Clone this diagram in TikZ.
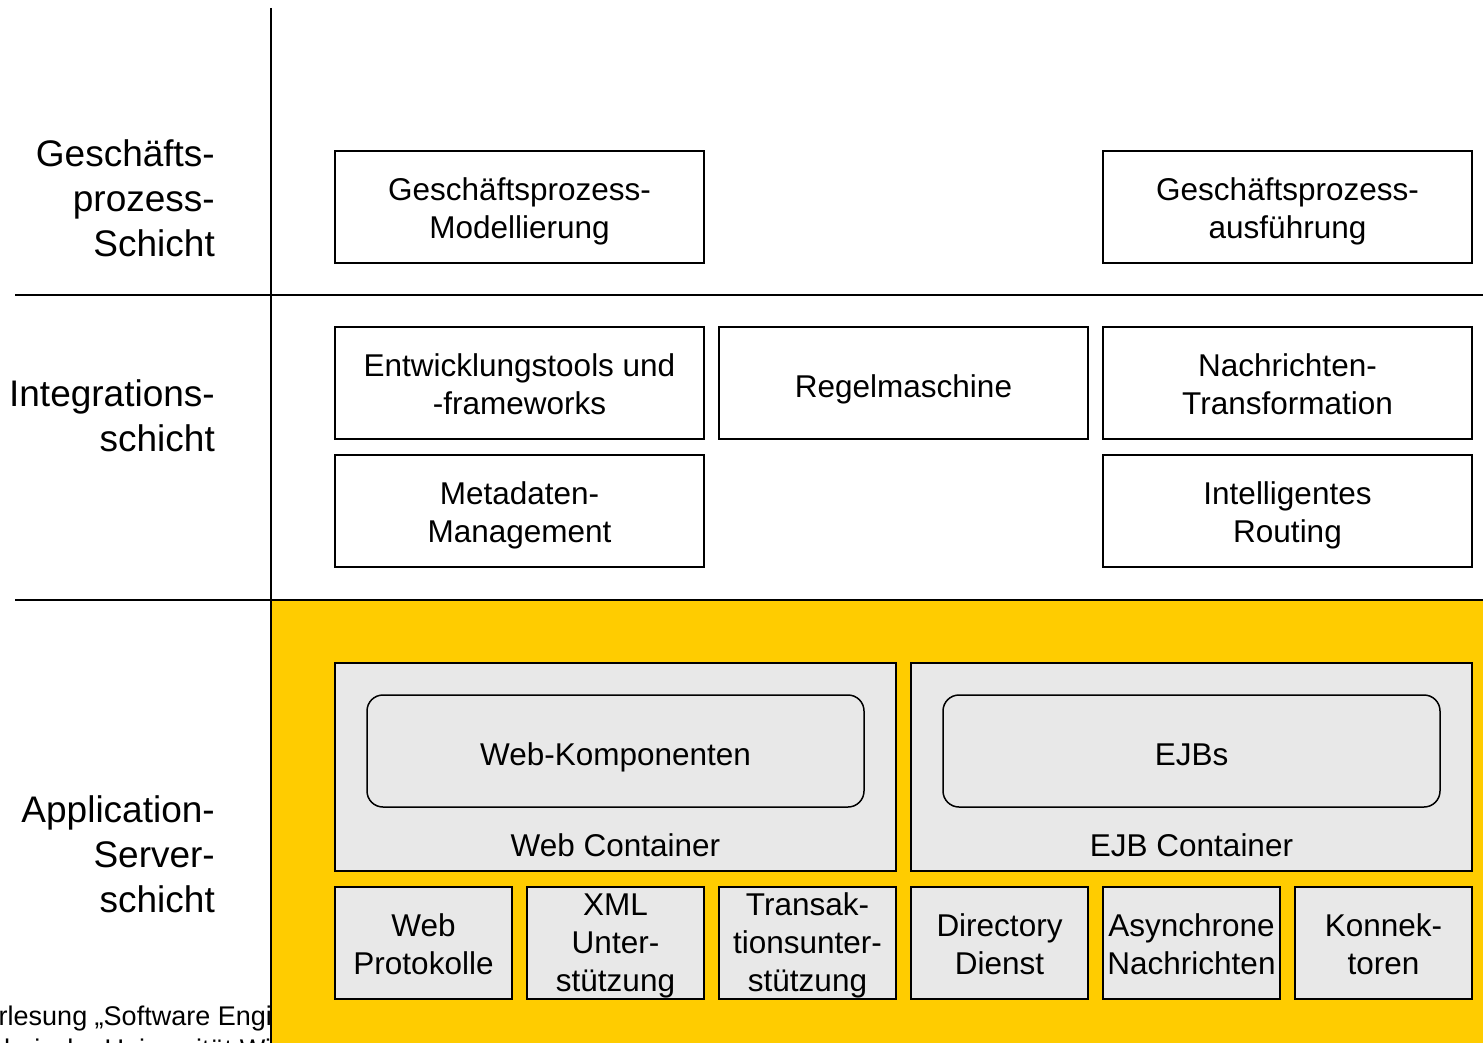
\documentclass[tikz,border=0pt]{standalone}
\usepackage{fontspec}
\setmainfont{Liberation Sans}
\definecolor{asyellow}{HTML}{FFCC00}
\definecolor{boxgray}{HTML}{E8E8E8}
% struts that fix the vertical placement of box texts
\newcommand{\boxstrut}{\rule[-8pt]{0pt}{45pt}}
\newcommand{\topstrut}{\rule{0pt}{33pt}}
\newcommand{\tallstrut}{\rule{0pt}{28pt}}
\begin{document}
\begin{tikzpicture}[x=1pt,y=-1pt,
  sep/.style={draw=black, line width=1.6pt},
  boxtext/.style={inner sep=0pt, align=center,
    font=\fontsize{31.5}{38}\selectfont,
    execute at begin node=\boxstrut, execute at end node=\boxstrut},
  box/.style={boxtext, draw=black, line width=1.5pt, fill=white,
    minimum width=369pt, minimum height=112pt},
  gbox/.style={box, fill=boxgray},
  small/.style={gbox, minimum width=177pt},
  container/.style={gbox, minimum width=561pt, minimum height=208pt},
  inner/.style={gbox, minimum width=497pt, rounded corners=16pt},
  ctext/.style={boxtext},
  layer/.style={anchor=east, align=right, inner sep=0pt,
    font=\fontsize{37}{45}\selectfont},
  foot/.style={anchor=base west, inner sep=0pt, font=\fontsize{27}{31}\selectfont}
]
\useasboundingbox (0,0) rectangle (1483,1043);
\clip (0,0) rectangle (1483,1043);
\fill[white] (0,0) rectangle (1483,1043);

% footer line of the slide, partly covered by the server layer
\node[foot] (foot1) at (-33,1025) {Vorlesung „Software Engineering“};
\node[foot] (foot2) at (-38,1058) {Technische Universität Wien};

% application server layer background
\fill[asyellow] (271,600) rectangle (1483,1043);

% layer separators
\coordinate (vtop) at (271,8);
\coordinate (vbot) at (271,1043);
\coordinate (h1l) at (15,295);
\coordinate (h1r) at (1483,295);
\coordinate (h2l) at (15,600);
\coordinate (h2r) at (1483,600);
\draw[sep] (vtop) -- (vbot);
\draw[sep] (h1l) -- (h1r);
\draw[sep] (h2l) -- (h2r);

% layer names
\node[layer] (lgp) at (215,198) {Geschäfts-\\prozess-\\Schicht};
\node[layer] (lint) at (215,416) {Integrations-\\schicht};
\node[layer] (lapp) at (215,854) {Application-\\Server-\\schicht};

% business process layer
\node[box] (gpm) at (519.5,207) {\topstrut Geschäftsprozess-\\Modellierung};
\node[box] (gpa) at (1287.5,207) {\topstrut Geschäftsprozess-\\ausführung};

% integration layer
\node[box] (entw) at (519.5,383) {\topstrut Entwicklungstools und\\-frameworks};
\node[box] (regel) at (903.5,383) {Regelmaschine};
\node[box] (nachr) at (1287.5,383) {\topstrut Nachrichten-\\Transformation};
\node[box] (meta) at (519.5,511) {\topstrut Metadaten-\\Management};
\node[box] (route) at (1287.5,511) {\topstrut Intelligentes\\Routing};

% application server layer
\node[container] (webc) at (615.5,767) {};
\node[inner] (webk) at (615.5,751) {Web-Komponenten};
\node[ctext] (webcl) at (615.5,842) {Web Container};
\node[container] (ejbc) at (1191.5,767) {};
\node[inner] (ejbs) at (1191.5,751) {EJBs};
\node[ctext] (ejbcl) at (1191.5,842) {EJB Container};

\node[small] (webp) at (423.5,943) {\topstrut Web\\Protokolle};
\node[small] (xml) at (615.5,943) {\tallstrut XML\\Unter-\\stützung};
\node[small] (trans) at (807.5,943) {\tallstrut Transak-\\tionsunter-\\stützung};
\node[small] (dir) at (999.5,943) {\topstrut Directory\\Dienst};
\node[small] (async) at (1191.5,943) {\topstrut Asynchrone\\Nachrichten};
\node[small] (konn) at (1383.5,943) {\topstrut Konnek-\\toren};
\end{tikzpicture}
\end{document}
